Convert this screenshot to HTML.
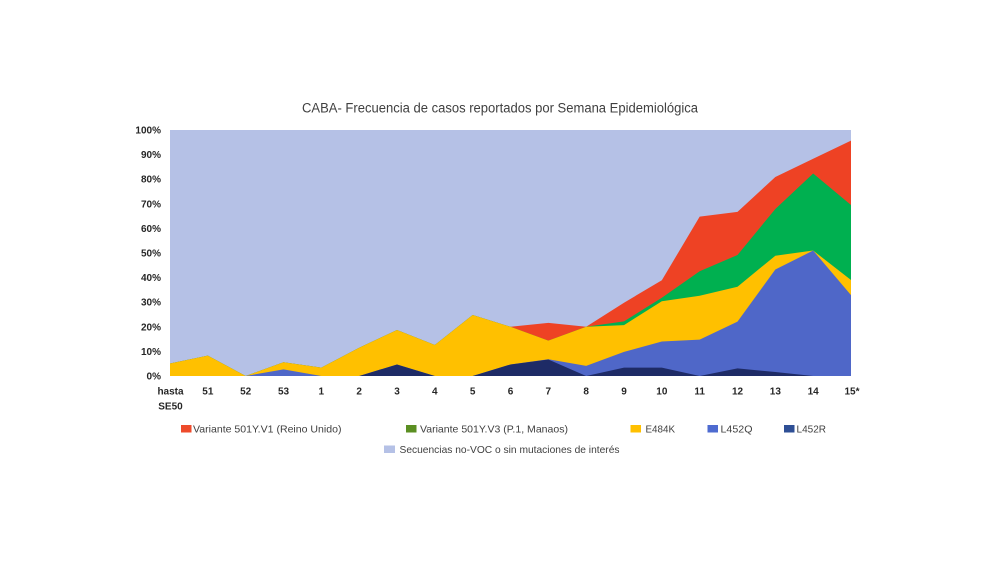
<!DOCTYPE html>
<html>
<head>
<meta charset="utf-8">
<style>
html,body{margin:0;padding:0;background:#fff;}
svg{display:block;}
text{font-family:"Liberation Sans",sans-serif;}
</style>
</head>
<body>
<svg width="1000" height="562" viewBox="0 0 1000 562" xmlns="http://www.w3.org/2000/svg">
<rect width="1000" height="562" fill="#fff"/>
<text x="302" y="112.5" font-size="13.5" fill="#404040" textLength="396" lengthAdjust="spacingAndGlyphs">CABA- Frecuencia de casos reportados por Semana Epidemiológica</text>

<!-- plot background (no-VOC) -->
<rect x="170" y="130" width="681" height="246" fill="#B5C1E6"/>

<!-- red V1 -->
<polygon fill="#EE4224" points="170,363.45 207.83,355.58 245.67,376 283.5,362.22 321.33,367.64 359.17,347.71 397,330 434.83,345 472.67,314.99 510.5,326.8 548.33,322.86 586.17,326.8 624,302.69 661.83,280.31 699.67,216.59 737.5,211.92 775.33,176.99 813.17,158.78 851,140.58 851,376 170,376"/>
<!-- green V3 -->
<polygon fill="#00B050" points="170,363.45 207.83,355.58 245.67,376 283.5,362.22 321.33,367.64 359.17,347.71 397,330 434.83,345 472.67,314.99 510.5,326.8 548.33,340.58 586.17,326.8 624,321.39 661.83,297.77 699.67,271.2 737.5,254.97 775.33,208.97 813.17,173.54 851,205.03 851,376 170,376"/>
<!-- yellow E484K -->
<polygon fill="#FFC000" points="170,363.45 207.83,355.58 245.67,376 283.5,362.22 321.33,367.64 359.17,347.71 397,330 434.83,345 472.67,314.99 510.5,326.8 548.33,340.58 586.17,326.8 624,325.08 661.83,301.22 699.67,295.8 737.5,286.7 775.33,255.71 813.17,250.54 851,280.06 851,376 170,376"/>
<!-- blue L452Q -->
<polygon fill="#4F67C8" points="170,376 207.83,376 245.67,376 283.5,369.36 321.33,376 359.17,376 397,364.44 434.83,376 472.67,376 510.5,364.44 548.33,359.27 586.17,365.91 624,351.89 661.83,341.56 699.67,339.59 737.5,321.63 775.33,269.48 813.17,250.54 851,295.07 851,376 170,376"/>
<!-- navy L452R -->
<polygon fill="#1E2B66" points="170,376 207.83,376 245.67,376 283.5,376 321.33,376 359.17,376 397,364.44 434.83,376 472.67,376 510.5,364.44 548.33,359.52 586.17,376 624,367.64 661.83,367.64 699.67,376 737.5,368.37 775.33,372.06 813.17,376 851,376 851,376 170,376"/>

<!-- y axis labels -->
<g font-size="10" font-weight="bold" fill="#262626" text-anchor="end">
<text x="161" y="133.5">100%</text>
<text x="161" y="158.1">90%</text>
<text x="161" y="182.7">80%</text>
<text x="161" y="207.3">70%</text>
<text x="161" y="231.9">60%</text>
<text x="161" y="256.5">50%</text>
<text x="161" y="281.1">40%</text>
<text x="161" y="305.7">30%</text>
<text x="161" y="330.3">20%</text>
<text x="161" y="354.9">10%</text>
<text x="161" y="379.5">0%</text>
</g>

<!-- x axis labels -->
<g font-size="10" font-weight="bold" fill="#262626" text-anchor="middle">
<text x="170.5" y="394.5">hasta</text>
<text x="170.5" y="409.5">SE50</text>
<text x="207.83" y="394.5">51</text>
<text x="245.67" y="394.5">52</text>
<text x="283.5" y="394.5">53</text>
<text x="321.33" y="394.5">1</text>
<text x="359.17" y="394.5">2</text>
<text x="397" y="394.5">3</text>
<text x="434.83" y="394.5">4</text>
<text x="472.67" y="394.5">5</text>
<text x="510.5" y="394.5">6</text>
<text x="548.33" y="394.5">7</text>
<text x="586.17" y="394.5">8</text>
<text x="624" y="394.5">9</text>
<text x="661.83" y="394.5">10</text>
<text x="699.67" y="394.5">11</text>
<text x="737.5" y="394.5">12</text>
<text x="775.33" y="394.5">13</text>
<text x="813.17" y="394.5">14</text>
<text x="852" y="394.5">15*</text>
</g>

<!-- legend -->
<g font-size="10.5" fill="#404040">
<rect x="181" y="425" width="10.5" height="7.5" fill="#EE4B2B"/>
<text x="193" y="432.5" textLength="148.5" lengthAdjust="spacingAndGlyphs">Variante 501Y.V1 (Reino Unido)</text>
<rect x="406" y="425" width="10.5" height="7.5" fill="#5B8F22"/>
<text x="420" y="432.5" textLength="148" lengthAdjust="spacingAndGlyphs">Variante 501Y.V3 (P.1, Manaos)</text>
<rect x="630.5" y="425" width="10.5" height="7.5" fill="#FFC000"/>
<text x="645.5" y="432.5" textLength="29.5" lengthAdjust="spacingAndGlyphs">E484K</text>
<rect x="707.5" y="425" width="10.5" height="7.5" fill="#4E6BD0"/>
<text x="720.5" y="432.5" textLength="32" lengthAdjust="spacingAndGlyphs">L452Q</text>
<rect x="784" y="425" width="10.5" height="7.5" fill="#2E4F95"/>
<text x="796.5" y="432.5" textLength="29.5" lengthAdjust="spacingAndGlyphs">L452R</text>
<rect x="384" y="445.5" width="11" height="7.5" fill="#B5C1E6"/>
<text x="399.5" y="452.8" textLength="220" lengthAdjust="spacingAndGlyphs">Secuencias no-VOC o sin mutaciones de interés</text>
</g>
</svg>
</body>
</html>
